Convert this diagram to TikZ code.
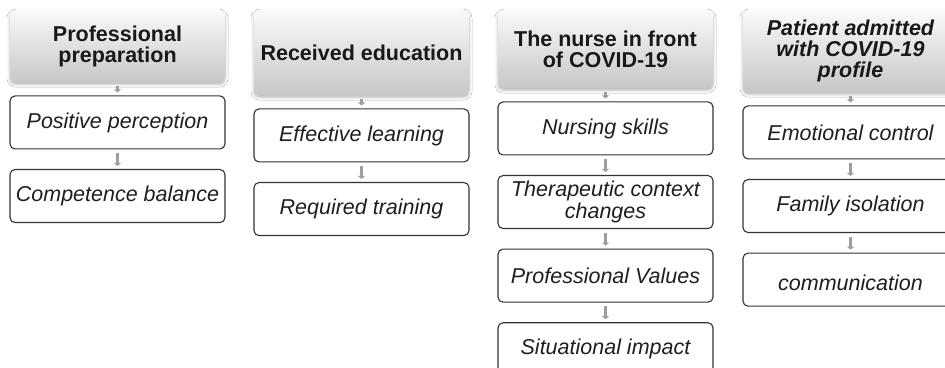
\documentclass[tikz,border=0pt]{standalone}
\usepackage{fontspec}
\setmainfont{Liberation Sans}
\usepackage{tikz}
\usetikzlibrary{
  positioning,
  shadows.blur,
  arrows.meta
}

\tikzset{
  head/.style={rounded corners=6pt, top color=black!2, bottom color=black!22,
    minimum width=215pt, align=center, text=black!90,
    font=\fontsize{21.5}{21}\selectfont\bfseries,
    blur shadow={shadow xshift=0pt, shadow yshift=-2pt, shadow blur radius=3pt, shadow opacity=30}},
  item/.style={draw=black!80, line width=1.1pt, rounded corners=5pt, fill=white,
    minimum width=215pt, minimum height=53pt, align=center, text=black!88,
    font=\fontsize{21.5}{22}\selectfont\itshape},
  flow/.style={draw=black!38, line width=3.5pt, -{Triangle[length=3pt,width=7pt]},
    shorten <=3.5pt, shorten >=3pt}
}

\begin{document}
\begin{tikzpicture}[x=1pt,y=1pt]
    \path[use as bounding box, fill=white] (0,0) rectangle (945,367);

    \node[head, minimum height=72pt, anchor=north] (prep) at (117.5,357) {Professional\\preparation};
    \node[item, below=13pt of prep] (perc) {Positive perception};
    \node[item, below=19.5pt of perc] (comp) {Competence balance};

    \node[head, minimum height=85pt, anchor=north] (educ) at (361.5,357) {Received education};
    \node[item, below=13pt of educ] (learn) {Effective learning};
    \node[item, below=19.5pt of learn] (train) {Required training};

    \node[head, minimum height=78pt, anchor=north] (nurse) at (605.5,357) {The nurse in front\\of COVID-19};
    \node[item, below=13pt of nurse] (skill) {Nursing skills};
    \node[item, below=19.5pt of skill] (ctx) {Therapeutic context\\changes};
    \node[item, below=19.5pt of ctx] (value) {Professional Values};
    \node[item, below=19.5pt of value] (impact) {Situational impact};

    \node[head, minimum height=82pt, anchor=north, font=\fontsize{21.5}{21}\selectfont\bfseries\itshape] (adm) at (850.5,357) {Patient admitted\\with COVID-19\\profile};
    \node[item, below=13pt of adm] (emo) {Emotional control};
    \node[item, below=19.5pt of emo] (iso) {Family isolation};
    \node[item, below=19.5pt of iso] (comm) {\mbox{}\\communication};

    \foreach \a/\b in {prep/perc, perc/comp, educ/learn, learn/train,
                       nurse/skill, skill/ctx, ctx/value, value/impact,
                       adm/emo, emo/iso, iso/comm}
        \draw[flow] (\a) -- (\b);
\end{tikzpicture}
\end{document}
